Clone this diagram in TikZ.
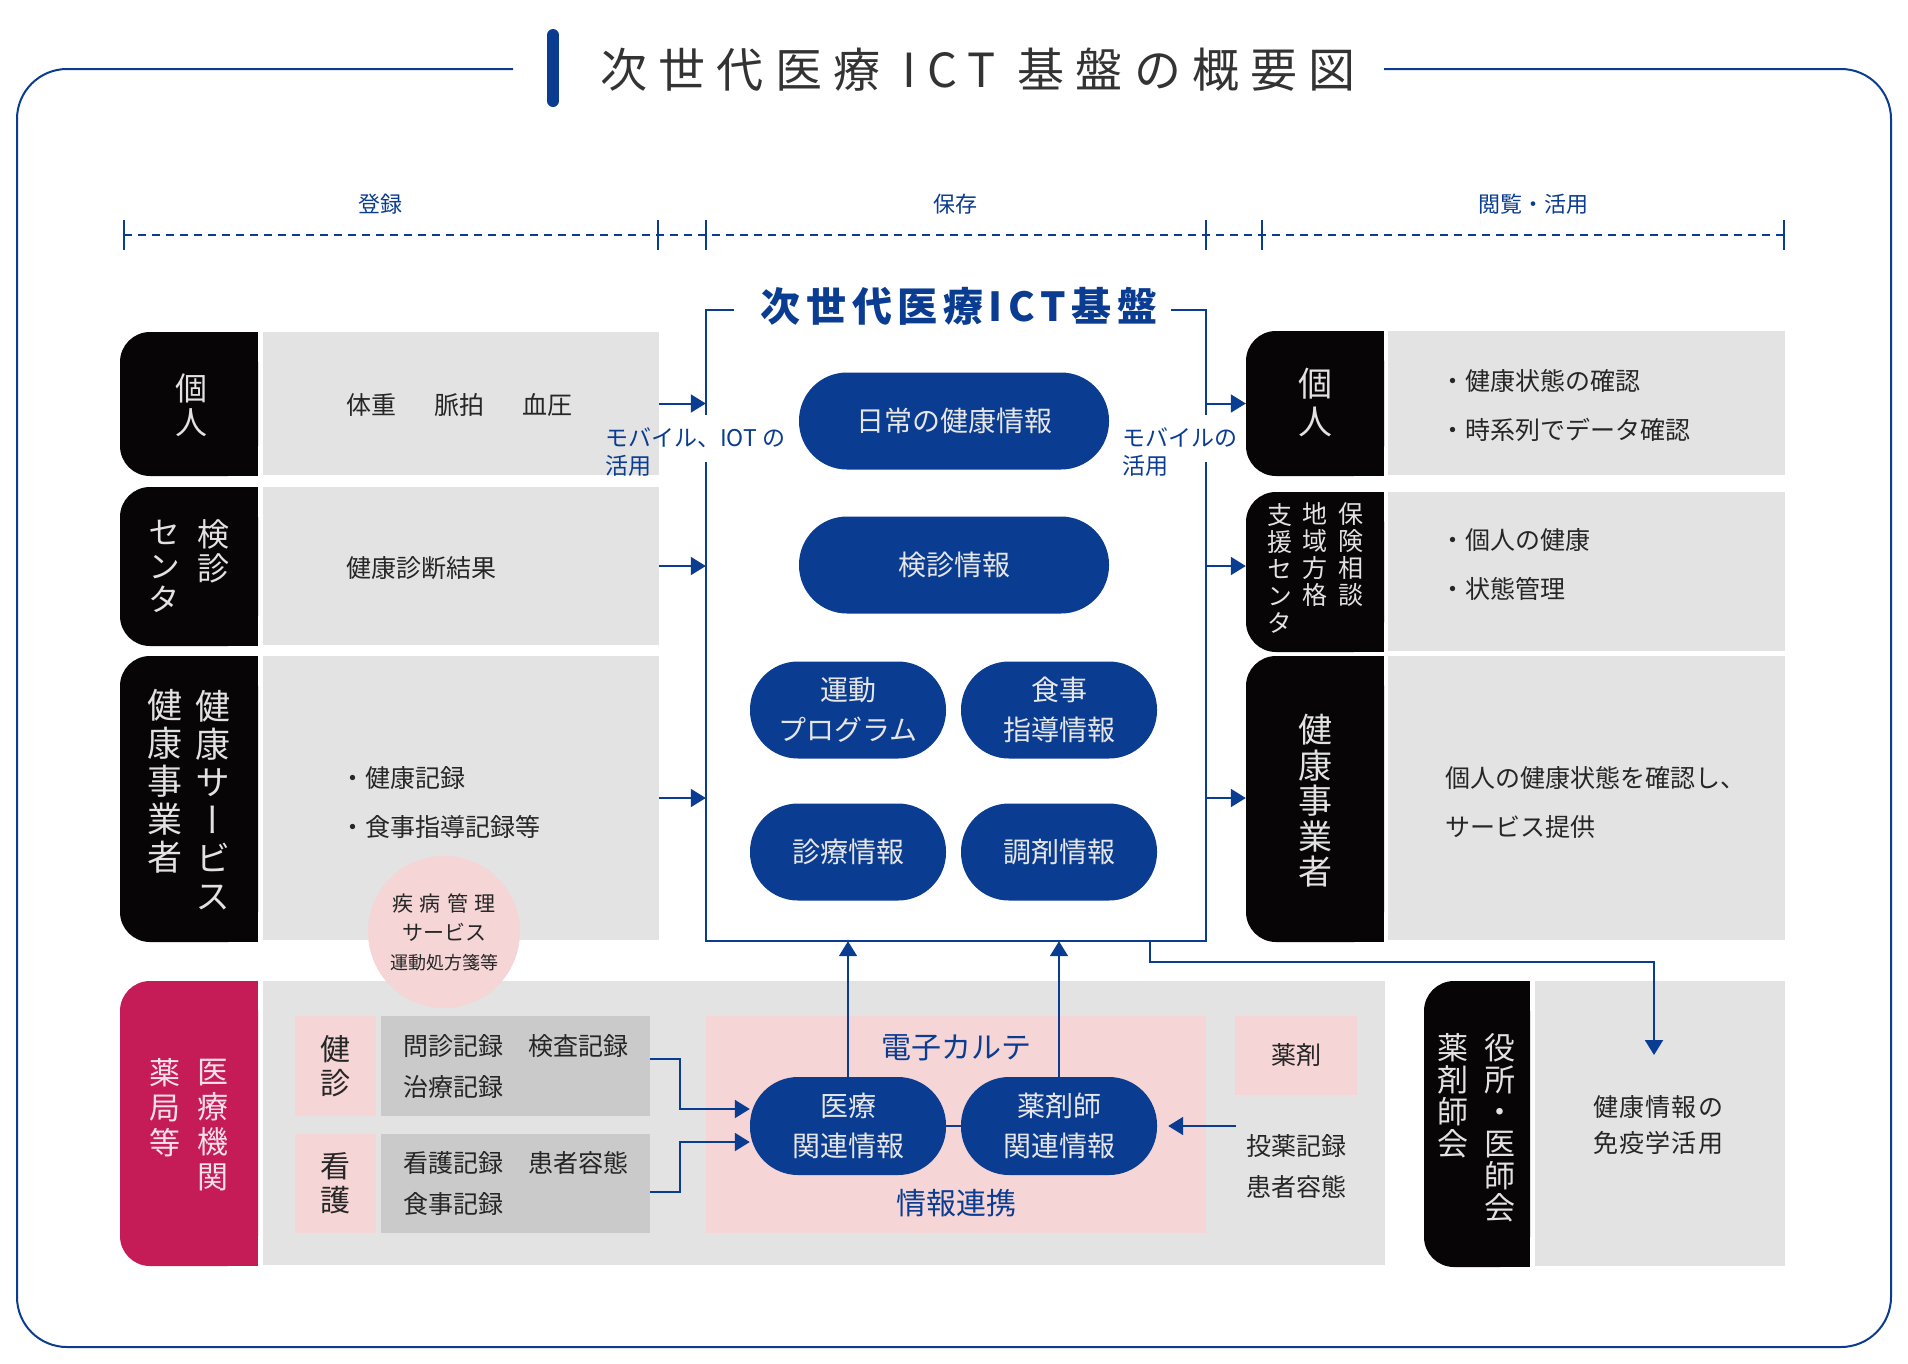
\documentclass[tikz,border=0pt]{standalone}
\usepackage{fontspec}
\setmainfont{Noto Sans CJK JP}
\newfontfamily\vertjp[RawFeature=+vert]{Noto Sans CJK JP}
\usetikzlibrary{arrows.meta, calc}

\definecolor{ictblue}{HTML}{0A3C91}
\definecolor{tabblack}{HTML}{070505}
\definecolor{panelgray}{HTML}{E3E3E3}
\definecolor{recgray}{HTML}{CACACA}
\definecolor{softpink}{HTML}{F5D5D6}
\definecolor{medred}{HTML}{C51B56}
\definecolor{inkgray}{HTML}{262626}
\definecolor{titlegray}{HTML}{333333}
\definecolor{tabtext}{HTML}{E2E2E2}
\definecolor{medtext}{HTML}{F7E1E8}
\definecolor{pilltext}{HTML}{E6E6E6}

\begin{document}
\begin{tikzpicture}[x=1pt, y=-1pt,
  outline/.style={draw=ictblue, line width=2pt},
  frameline/.style={ictblue, line width=2.5pt},
  arr/.style={-{Triangle[length=15pt, width=18pt]}, ictblue, line width=2pt},
  link/.style={ictblue, line width=2pt},
  panel/.style={fill=panelgray, inner sep=0},
  tab/.style={fill=tabblack, rounded corners=30, inner sep=0},
  vcol/.style 2 args={font=\vertjp\fontsize{#1}{#2}\selectfont, text=tabtext, inner sep=0, align=center},
  pill/.style={fill=ictblue, rounded corners=48, minimum height=97, inner sep=0, align=center,
               text=pilltext, font=\fontsize{28}{40}\selectfont},
  note/.style={anchor=west, inner sep=0, align=left, text=inkgray, font=\fontsize{25}{49}\selectfont},
  phase/.style={text=ictblue, font=\fontsize{22}{26}\selectfont},
  aside/.style={anchor=west, inner sep=0, align=left, text=ictblue, font=\fontsize{23}{28}\selectfont},
]
\useasboundingbox (0,0) rectangle (1908,1363);

% heading and outer frame
\draw[ictblue, line width=12pt, line cap=round] (553,35) -- (553,101);
\node[text=titlegray, font=\fontsize{47}{50}\selectfont\addfontfeature{LetterSpace=24}] (heading) at (978,70) {次世代医療 ICT 基盤の概要図};
\draw[outline, rounded corners=50] (513,69) -- (17,69) -- (17,1347) -- (1891,1347) -- (1891,69) -- (1384,69);

% phases
\node[phase] (reg) at (380,204) {登録};
\node[phase] (keep) at (955,204) {保存};
\node[phase] (use) at (1533,204) {閲覧・活用};
\draw[ictblue, line width=2.5pt, dash pattern=on 8pt off 6pt] (124,235) -- (1784,235);
\foreach \x in {124,658,706,1206,1262,1784}
  \draw[ictblue, line width=1.5pt] (\x,220) -- (\x,250);

% platform
\node[inner sep=0, minimum width=500, minimum height=631] (platform) at (956,625.5) {};
\node[text=ictblue, font=\fontsize{40}{42}\selectfont\bfseries\addfontfeature{LetterSpace=14}] (ptitle) at (959,306) {次世代医療ICT基盤};
\draw[frameline] ([xshift=28]platform.north west) -- (platform.north west) -- ([yshift=-105]platform.north west);
\draw[frameline] ([yshift=-152]platform.north west) -- (platform.south west) -- (platform.south east) -- ([yshift=-152]platform.north east);
\draw[frameline] ([yshift=-105]platform.north east) -- (platform.north east) -- ([xshift=-35]platform.north east);

\node[pill, minimum width=310] (daily) at (954,421) {日常の健康情報};
\node[pill, minimum width=310] (checkup) at (954,565) {検診情報};
\node[pill, minimum width=196] (exercise) at (848,710) {運動\\プログラム};
\node[pill, minimum width=196] (diet) at (1059,710) {食事\\指導情報};
\node[pill, minimum width=196] (clinic) at (848,852) {診療情報};
\node[pill, minimum width=196] (dispense) at (1059,852) {調剤情報};

% left rows
\fill[tabblack] (189,332) rectangle (258,476);
\node[tab, minimum width=138, minimum height=144] (lt1) at (189,404) {};
\node[vcol={32}{34}] (lt1a) at (191,405) {個\\人};
\node[panel, minimum width=396, minimum height=143] (lp1) at (461,403.5) {};
\node[note] (ln1) at (346,405) {体重\hspace{38pt}脈拍\hspace{38pt}血圧};

\fill[tabblack] (189,487) rectangle (258,646);
\node[tab, minimum width=138, minimum height=159] (lt2) at (189,566.5) {};
\node[vcol={32}{33.5}] (lt2a) at (213,551.5) {検\\診};
\node[vcol={32}{33.5}] (lt2b) at (164,566.5) {セ\\ン\\タ};
\node[panel, minimum width=396, minimum height=158] (lp2) at (461,566) {};
\node[note] (ln2) at (346,568) {健康診断結果};

\fill[tabblack] (189,656) rectangle (258,942);
\node[tab, minimum width=138, minimum height=286] (lt3) at (189,799) {};
\node[vcol={35}{38}] (lt3a) at (213,800) {健\\康\\サ\\ー\\ビ\\ス};
\node[vcol={35}{38}] (lt3b) at (165,781) {健\\康\\事\\業\\者};
\node[panel, minimum width=396, minimum height=284] (lp3) at (461,798) {};
\node[note] (ln3) at (340,802.5) {・健康記録\\・食事指導記録等};

% right rows
\fill[tabblack] (1315,331) rectangle (1384,476);
\node[tab, minimum width=138, minimum height=145] (rt1) at (1315,403.5) {};
\node[vcol={34}{38}] (rt1a) at (1315,402.5) {個\\人};
\node[panel, minimum width=397, minimum height=144] (rp1) at (1586.5,403) {};
\node[note] (rn1) at (1440,405.5) {・健康状態の確認\\・時系列でデータ確認};

\fill[tabblack] (1315,492) rectangle (1384,652);
\node[tab, minimum width=138, minimum height=160] (rt2) at (1315,572) {};
\node[vcol={25}{27}] (rt2a) at (1351,554.5) {保\\険\\相\\談};
\node[vcol={25}{27}] (rt2b) at (1315,554.5) {地\\域\\方\\格};
\node[vcol={25}{27}] (rt2c) at (1280,568) {支\\援\\セ\\ン\\タ};
\node[panel, minimum width=397, minimum height=159] (rp2) at (1586.5,571.5) {};
\node[note] (rn2) at (1440,565) {・個人の健康\\・状態管理};

\fill[tabblack] (1315,656) rectangle (1384,942);
\node[tab, minimum width=138, minimum height=286] (rt3) at (1315,799) {};
\node[vcol={34}{35.5}] (rt3a) at (1315,801) {健\\康\\事\\業\\者};
\node[panel, minimum width=397, minimum height=284] (rp3) at (1586.5,798) {};
\node[note] (rn3) at (1445,802.5) {個人の健康状態を確認し、\\サービス提供};

% labels on the platform sides
\node[aside] (mobiot) at (605,452) {モバイル、IOT の\\活用};
\node[aside] (mobile) at (1122,452) {モバイルの\\活用};

% medical institutions
\node[panel, minimum width=1122, minimum height=284] (clinicbase) at (824,1123) {};
\fill[medred] (189,981) rectangle (258,1266);
\node[tab, fill=medred, minimum width=138, minimum height=285] (hosp) at (189,1123.5) {};
\node[vcol={31}{35}, text=medtext] (hospa) at (213,1125.5) {医\\療\\機\\関};
\node[vcol={31}{35}, text=medtext] (hospb) at (165,1108) {薬\\局\\等};

\node[vcol={30}{34}, fill=softpink, text=inkgray, minimum width=81, minimum height=100] (kenshin) at (335.5,1066) {健\\診};
\node[fill=recgray, inner sep=0, minimum width=269, minimum height=100] (kenrec) at (515.5,1066) {};
\node[note, font=\fontsize{25}{41}\selectfont] (kenrectext) at (403,1066.5) {問診記録　検査記録\\治療記録};
\node[vcol={30}{34}, fill=softpink, text=inkgray, minimum width=81, minimum height=99] (kango) at (335.5,1183.5) {看\\護};
\node[fill=recgray, inner sep=0, minimum width=269, minimum height=99] (kangorec) at (515.5,1183.5) {};
\node[note, font=\fontsize{25}{41}\selectfont] (kangorectext) at (403,1183) {看護記録　患者容態\\食事記録};

\node[fill=softpink, inner sep=0, minimum width=500, minimum height=217] (ehr) at (956,1124.5) {};
\node[text=ictblue, font=\fontsize{30}{32}\selectfont] (ehrtitle) at (956,1048) {電子カルテ};
\node[text=ictblue, font=\fontsize{30}{32}\selectfont] (linkage) at (956,1203) {情報連携};
\node[pill, minimum width=196, minimum height=98] (iryo) at (848,1126) {医療\\関連情報};
\node[pill, minimum width=196, minimum height=98] (yakuzai) at (1059,1126) {薬剤師\\関連情報};

\node[fill=softpink, inner sep=0, minimum width=122, minimum height=79, text=inkgray, font=\fontsize{25}{30}\selectfont] (drug) at (1296,1055.5) {薬剤};
\node[note, anchor=center, align=center, inner xsep=10, font=\fontsize{25}{41}\selectfont] (drugrec) at (1296,1166.5) {投薬記録\\患者容態};

% disease care circle
\node[circle, fill=softpink, minimum size=152, inner sep=0, align=center, text=inkgray, font=\fontsize{21}{29}\selectfont] (care) at (444,932)
  {{\addfontfeature{LetterSpace=30}疾病管理}\\サービス\\{\fontsize{18}{29}\selectfont 運動処方箋等}};

% city and associations
\fill[tabblack] (1477,981) rectangle (1530,1267);
\node[tab, minimum width=106, minimum height=286] (city) at (1477,1124) {};
\node[vcol={31}{32}] (citya) at (1500,1128) {役\\所\\・\\医\\師\\会};
\node[vcol={31}{32}] (cityb) at (1453,1096) {薬\\剤\\師\\会};
\node[panel, minimum width=250, minimum height=285] (cp) at (1660,1123.5) {};
\node[note, anchor=center, align=center, font=\fontsize{25}{36}\selectfont\addfontfeature{LetterSpace=5}] (cn) at (1658,1125) {健康情報の\\免疫学活用};

% connectors
\foreach \i in {1,2,3} {
  \draw[arr] (lp\i.east) -- (lp\i.east -| platform.west);
  \draw[arr] (platform.east |- lp\i.east) -- (rt\i.west |- lp\i.east);
}
\draw[arr] (iryo.north) -- (iryo.north |- platform.south);
\draw[arr] (yakuzai.north) -- (yakuzai.north |- platform.south);
\draw[link] (iryo.east) -- (yakuzai.west);
\draw[arr] ([yshift=7]kenrec.east) -- ++(30,0) |- ([yshift=17]iryo.west);
\draw[arr] ([yshift=-8]kangorec.east) -- ++(30,0) |- ([yshift=-16]iryo.west);
\draw[arr, shorten >=11pt] (drugrec.west |- yakuzai.east) -- (yakuzai.east);
\coordinate (drop) at (1654,1055);
\draw[arr] ([xshift=-56]platform.south east) -- ++(0,21) -| (drop);
\end{tikzpicture}
\end{document}
